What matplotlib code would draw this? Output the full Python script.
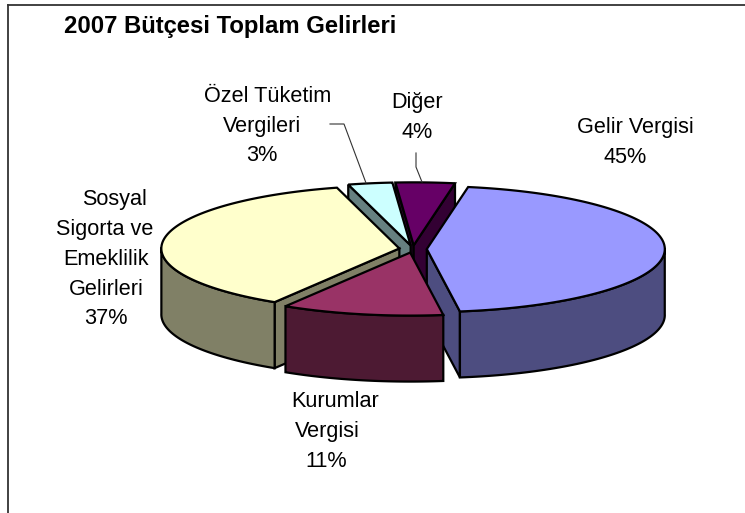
import numpy as np
import matplotlib
matplotlib.use("Agg")
import matplotlib.pyplot as plt
from matplotlib.patches import Polygon

# chart data, percent shares, in the order the pie runs clockwise
categories = [["Gelir Vergisi"], ["Kurumlar", "Vergisi"], ["Sosyal", "Sigorta ve", "Emeklilik", "Gelirleri"],
              ["Özel Tüketim", "Vergileri"], ["Diğer"]]
shares = [45, 11, 37, 3, 4]
top_colors = ["#9999FF", "#993366", "#FFFFCC", "#CCFFFF", "#660066"]
side_colors = ["#4D4D80", "#4D1A33", "#808066", "#668080", "#330033"]
title = "2007 Bütçesi Toplam Gelirleri"

# label line positions in pixels (x centre, baseline), last one is the percent line
label_pos = [
    [(635, 133), (625, 163)],
    [(335, 407), (327, 437), (326, 467)],
    [(115, 205), (105, 235), (106, 265), (106, 295), (106, 324)],
    [(268, 102), (262, 132), (262, 161)],
    [(417, 108), (417, 138)],
]

# pie geometry in pixels
CX, CY = 413, 249
RX, RY = 238, 63
DEPTH = 66
EXPLODE = 0.058
START_ANGLE = 80.0  # first slice starts here and runs clockwise

plt.rcParams["font.family"] = ["Liberation Sans", "DejaVu Sans"]

W, H = 745, 513
fig = plt.figure(figsize=(W / 100, H / 100), dpi=100)
ax = fig.add_axes([0, 0, 1, 1])
ax.set_xlim(0, W)
ax.set_ylim(H, 0)
ax.axis("off")


def slice_geometry(i):
    """Angles and exploded apex for slice i"""
    total = sum(shares)
    a0 = START_ANGLE - 360.0 * sum(shares[:i]) / total
    a1 = a0 - 360.0 * shares[i] / total
    mid = np.radians((a0 + a1) / 2)
    apex = (CX + EXPLODE * RX * np.cos(mid), CY - EXPLODE * RY * np.sin(mid))
    return a0, a1, apex


def rim(apex, a0, a1, n=120):
    t = np.radians(np.linspace(a0, a1, n))
    return np.column_stack([apex[0] + RX * np.cos(t), apex[1] - RY * np.sin(t)])


def draw_slice(i):
    a0, a1, apex = slice_geometry(i)
    arc = rim(apex, a0, a1)
    down = np.array([0, DEPTH])
    style = dict(edgecolor="black", linewidth=1.6, joinstyle="miter", facecolor=side_colors[i])

    # cut faces, only those turned towards the viewer
    for end, normal in ((arc[0], a0 + 90), (arc[-1], a1 - 90)):
        if np.sin(np.radians(normal)) < 0:
            ax.add_patch(Polygon([apex, end, end + down, np.array(apex) + down], closed=True, **style))

    # outer wall, only the part facing the viewer
    t = np.radians(np.linspace(a0, a1, len(arc)))
    front = arc[np.sin(t) < 0.02]
    if len(front) > 1:
        ax.add_patch(Polygon(np.vstack([front, (front + down)[::-1]]), closed=True, **style))

    # top face
    top = dict(style, facecolor=top_colors[i])
    ax.add_patch(Polygon(np.vstack([[apex], arc]), closed=True, **top))


# painter's order, back slices first
for i in [4, 3, 2, 0, 1]:
    draw_slice(i)

for i, lines in enumerate(categories):
    for txt, (x, y) in zip(lines + [f"{shares[i]}%"], label_pos[i]):
        ax.text(x, y, txt, ha="center", va="baseline", fontsize=15.6, color="black")

ax.text(64, 32.5, title, fontsize=17.2, fontweight="bold", ha="left", va="baseline")

# leader lines
ax.plot([330, 344, 366], [124, 124, 183], color="#333333", lw=0.8)
ax.plot([416, 416, 422], [153, 167, 182], color="#333333", lw=0.8)

# chart frame
ax.plot([8.2, 8.2], [H, 5], color="#333333", lw=1.3)
ax.plot([8.2, W], [5, 5], color="#333333", lw=1.3)

fig.savefig("out.png", dpi=100)
